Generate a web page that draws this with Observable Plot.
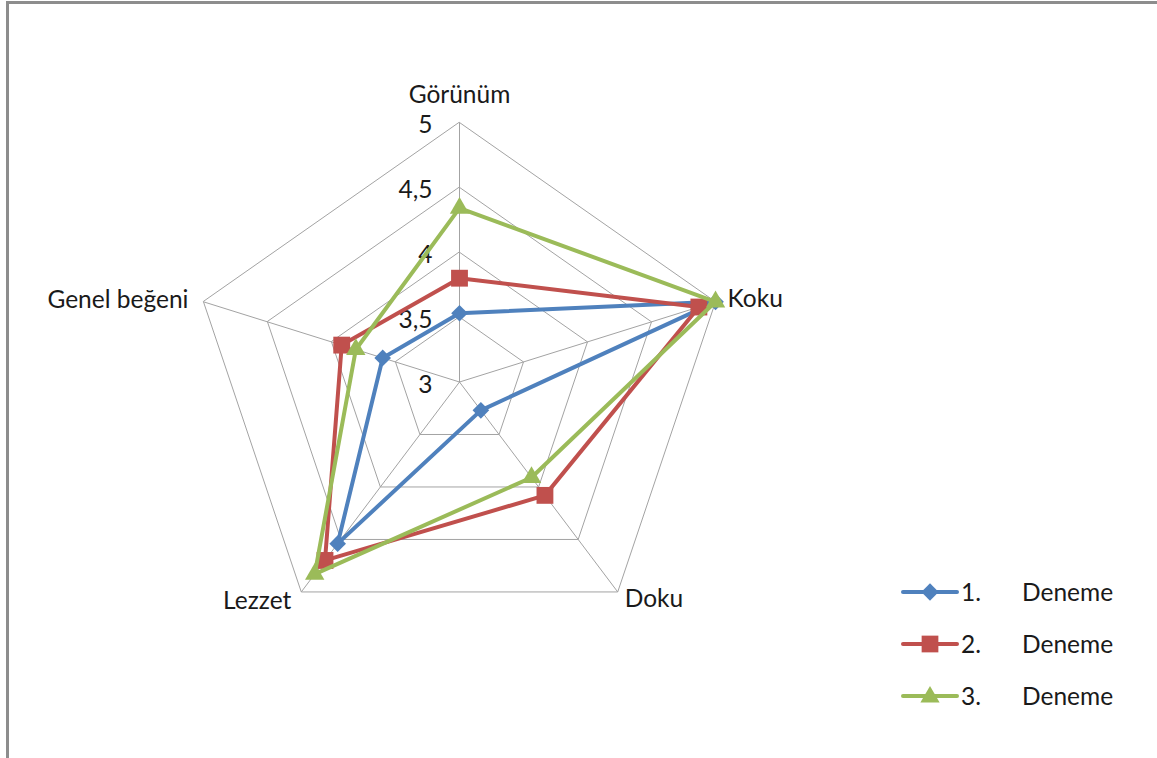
<!DOCTYPE html>
<html>
<head>
<meta charset="utf-8">
<script src="https://cdn.jsdelivr.net/npm/d3@7"></script>
<script src="https://cdn.jsdelivr.net/npm/@observablehq/plot@0.6"></script>
<style>
  html, body { margin: 0; padding: 0; background: #fff; }
  #page { position: relative; width: 1157px; height: 758px; overflow: hidden; background: #fff; font-family: Lato, "Open Sans", sans-serif; }
  #frame { position: absolute; left: 6px; top: 1px; width: 1300px; height: 900px; border-left: 3px solid #8d8d8d; border-top: 3px solid #8d8d8d; box-sizing: border-box; }
  #chart { position: absolute; left: 0; top: 0; }
  #legend { position: absolute; left: 0; top: 0; width: 1157px; height: 758px; pointer-events: none; }
  .lg-row { position: absolute; left: 900px; height: 30px; width: 250px; }
  .lg-row svg { position: absolute; left: 0; top: 0; }
  .lg-num { position: absolute; left: 61px; top: 0; line-height: 30px; font-size: 24.5px; color: #1a1a1a; }
  .lg-name { position: absolute; left: 122px; top: 0; line-height: 30px; font-size: 24.5px; color: #1a1a1a; }
</style>
</head>
<body>
<div id="page">
  <div id="frame"></div>
  <div id="chart"></div>
  <div id="legend"></div>
</div>
<script>
// ---- data ----
const categories = ["Görünüm", "Koku", "Doku", "Lezzet", "Genel beğeni"];
const seriesNumbers = ["1.", "2.", "3."];
const seriesName = "Deneme";
const deneme1 = [3.53, 5.00, 3.27, 4.54, 3.60];
const deneme2 = [3.80, 4.87, 4.08, 4.70, 3.92];
const deneme3 = [4.34, 5.00, 3.91, 4.83, 3.81];
const gridLevels = [3, 3.5, 4, 4.5, 5];
const tickLabels = ["3", "3,5", "4", "4,5", "5"];
const seriesColors = ["#4F81BD", "#C0504D", "#9BBB59"];
const seriesSymbols = ["diamond2", "square", "triangle"];

const axisMin = 3, axisMax = 5;
const seriesValues = [deneme1, deneme2, deneme3];

// polar -> cartesian in value units (radius = value - axisMin), clockwise from top
const angle = i => (i * 2 * Math.PI) / categories.length;
const px = (v, i) => (v - axisMin) * Math.sin(angle(i));
const py = (v, i) => (v - axisMin) * Math.cos(angle(i));

const points = [];
seriesValues.forEach((vals, s) => {
  vals.forEach((v, i) => points.push({series: s, cat: categories[i], x: px(v, i), y: py(v, i)}));
});

const grid = [];
gridLevels.slice(1).forEach(l => categories.forEach((c, i) => grid.push({level: l, x: px(l, i), y: py(l, i)})));
const spokes = categories.map((c, i) => ({cat: c, x: px(axisMax, i), y: py(axisMax, i)}));
const tickData = gridLevels.map((l, k) => ({label: tickLabels[k], y: l - axisMin}));
const catLabels = categories.map((c, i) => ({cat: c, i, x: px(axisMax, i), y: py(axisMax, i)}));

const W = 1157, H = 758;
const cx = 459, cy = 381.5, kx = 134.6, ky = 129.75;

const font = "Lato, 'Open Sans', sans-serif";
const txt = {fontSize: 24.5, fill: "#1a1a1a", fontFamily: font};

const marks = [
  Plot.line(grid, {x: "x", y: "y", z: "level", curve: "linear-closed", stroke: "#a3a3a3", strokeWidth: 1}),
  Plot.link(spokes, {x1: 0, y1: 0, x2: "x", y2: "y", stroke: "#a3a3a3", strokeWidth: 1}),
  Plot.text(tickData, {x: 0, y: "y", text: "label", textAnchor: "end", dx: -27, dy: 3, ...txt}),
  Plot.text(catLabels.filter(d => d.i === 0), {x: "x", y: "y", text: "cat", textAnchor: "middle", dy: -27, ...txt}),
  Plot.text(catLabels.filter(d => d.i === 1), {x: "x", y: "y", text: "cat", textAnchor: "start", dx: 12, dy: -3, ...txt}),
  Plot.text(catLabels.filter(d => d.i === 2), {x: "x", y: "y", text: "cat", textAnchor: "start", dx: 7, dy: 7, ...txt}),
  Plot.text(catLabels.filter(d => d.i === 3), {x: "x", y: "y", text: "cat", textAnchor: "end", dx: -10, dy: 9, ...txt}),
  Plot.text(catLabels.filter(d => d.i === 4), {x: "x", y: "y", text: "cat", textAnchor: "end", dx: -15, dy: -2, ...txt})
];
const markerR = [7.5, 9.5, 7.2];
seriesValues.forEach((vals, s) => {
  const d = points.filter(p => p.series === s);
  marks.push(Plot.line(d, {x: "x", y: "y", curve: "linear-closed", stroke: seriesColors[s], strokeWidth: 4, strokeLinejoin: "round"}));
  marks.push(Plot.dot(d, {x: "x", y: "y", symbol: seriesSymbols[s], r: markerR[s], fill: seriesColors[s], stroke: "none"}));
});

const chart = Plot.plot({
  width: W, height: H,
  marginTop: 0, marginRight: 0, marginBottom: 0, marginLeft: 0,
  x: {domain: [-cx / kx, (W - cx) / kx], range: [0, W], axis: null},
  y: {domain: [-(H - cy) / ky, cy / ky], range: [H, 0], axis: null},
  style: {background: "transparent", fontFamily: font},
  marks
});
document.getElementById("chart").appendChild(chart);

// ---- legend ----
const legend = document.getElementById("legend");
const legendY = [592, 644, 696];
const symGen = [d3.symbolDiamond2, d3.symbolSquare, d3.symbolTriangle];
const symSize = [190, 280, 160];
seriesNumbers.forEach((n, s) => {
  const row = document.createElement("div");
  row.className = "lg-row";
  row.style.top = (legendY[s] - 15) + "px";
  const svg = d3.create("svg").attr("width", 60).attr("height", 30);
  svg.append("line").attr("x1", 3).attr("x2", 57).attr("y1", 15).attr("y2", 15)
    .attr("stroke", seriesColors[s]).attr("stroke-width", 4).attr("stroke-linecap", "round");
  svg.append("path").attr("transform", `translate(30,${s === 2 ? 16 : 15})`)
    .attr("d", d3.symbol(symGen[s], symSize[s])()).attr("fill", seriesColors[s]);
  row.appendChild(svg.node());
  const num = document.createElement("span"); num.className = "lg-num"; num.textContent = n;
  const nm = document.createElement("span"); nm.className = "lg-name"; nm.textContent = seriesName;
  row.appendChild(num); row.appendChild(nm);
  legend.appendChild(row);
});
</script>
</body>
</html>
